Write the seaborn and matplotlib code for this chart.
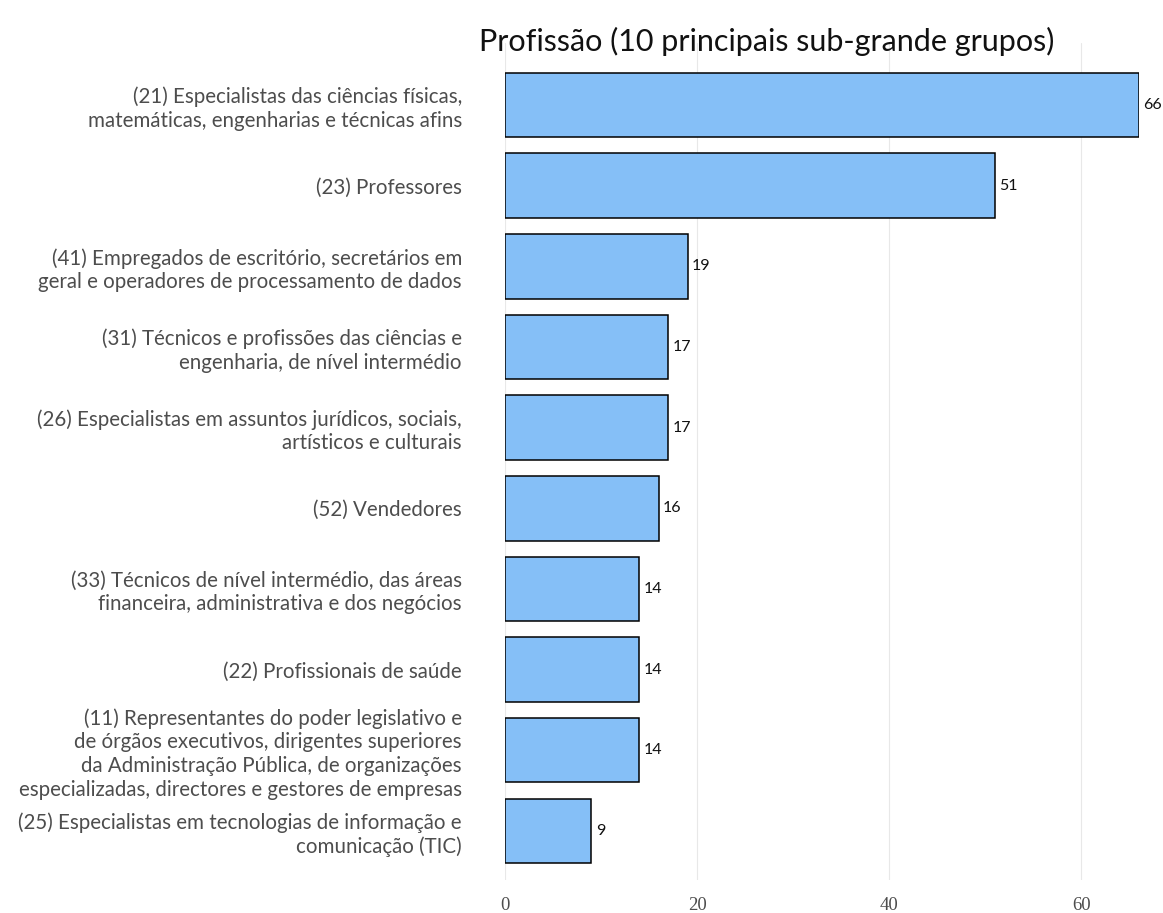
import matplotlib

matplotlib.use("Agg")

import matplotlib.pyplot as plt
import pandas as pd
import seaborn as sns

sns.set_theme(style="white")
plt.rcParams["font.family"] = ["Lato", "DejaVu Sans"]

# top-10 professions (sub-major groups), already in display order
PROFESSIONS = [
    "(21) Especialistas das ciências físicas,\nmatemáticas, engenharias e técnicas afins",
    "(23) Professores",
    "(41) Empregados de escritório, secretários em\ngeral e operadores de processamento de dados",
    "(31) Técnicos e profissões das ciências e\nengenharia, de nível intermédio",
    "(26) Especialistas em assuntos jurídicos, sociais,\nartísticos e culturais",
    "(52) Vendedores",
    "(33) Técnicos de nível intermédio, das áreas\nfinanceira, administrativa e dos negócios",
    "(22) Profissionais de saúde",
    "(11) Representantes do poder legislativo e\nde órgãos executivos, dirigentes superiores\n"
    "da Administração Pública, de organizações\nespecializadas, directores e gestores de empresas",
    "(25) Especialistas em tecnologias de informação e\ncomunicação (TIC)",
]
COUNTS = [66, 51, 19, 17, 17, 16, 14, 14, 14, 9]
X_TICKS = [0, 20, 40, 60]

BAR_COLOR = "#85BFF7"
LABEL_GREY = "#4D4D4D"

df = pd.DataFrame({"profissao": PROFESSIONS, "n": COUNTS})

fig = plt.figure(figsize=(11.63, 9.13), dpi=100)
ax = fig.add_axes([505 / 1163, 1 - 880 / 913, (1139 - 505) / 1163, (880 - 43) / 913])

sns.barplot(
    data=df, x="n", y="profissao", color=BAR_COLOR, edgecolor="black",
    linewidth=1.1, width=0.8, saturation=1, ax=ax,
)
for i, v in enumerate(df["n"]):
    ax.text(v + 0.45, i, str(v), va="center", ha="left", fontsize=11.5,
            color="#111111", clip_on=False)

ax.set_xlim(0, 66)
ax.set_ylim(9.61, -0.77)
ax.set_xticks(X_TICKS)
ax.set_xticklabels([str(t) for t in X_TICKS], family="Liberation Serif",
                   fontsize=13.5, color=LABEL_GREY)
ax.xaxis.grid(True, color="#E8E8E8", linewidth=0.8)
ax.set_axisbelow(True)
ax.tick_params(axis="x", length=0, pad=12)
ax.tick_params(axis="y", length=0, pad=31)
for lbl in ax.get_yticklabels():
    lbl.set_fontsize(14.8)
    lbl.set_color(LABEL_GREY)
    lbl.set_linespacing(1.22)
ax.set_xlabel("")
ax.set_ylabel("")
sns.despine(ax=ax, left=True, bottom=True, top=True, right=True)

fig.text(767 / 1163, 1 - 41 / 913, "Profissão (10 principais sub-grande grupos)",
         ha="center", va="center", fontsize=22, color="#111111")

fig.savefig("out.png", dpi=100)
plt.close(fig)
